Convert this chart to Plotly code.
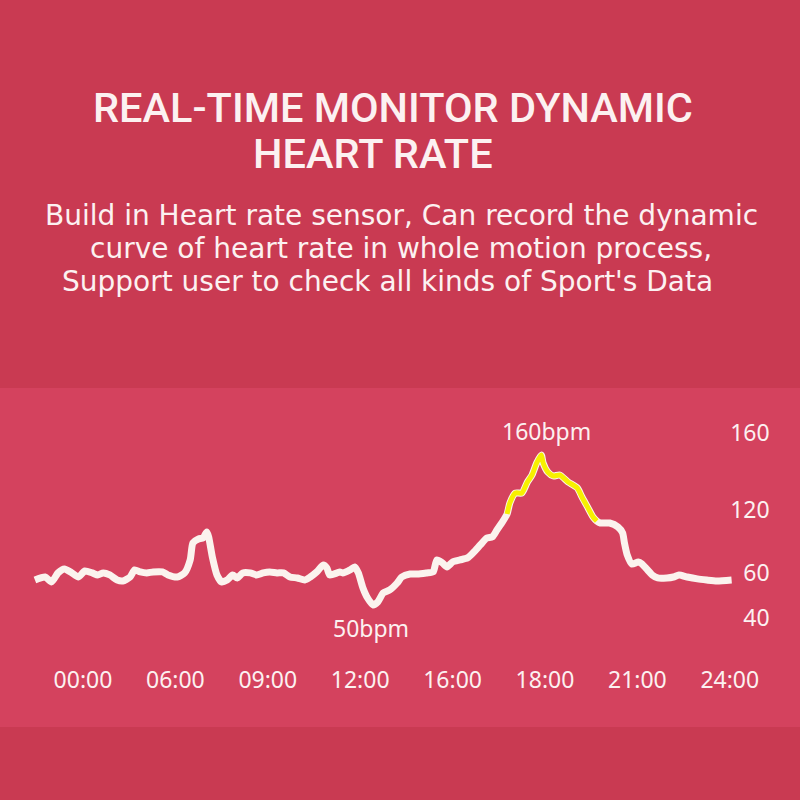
import plotly.graph_objects as go

# ---- data ----
tick_labels = ["00:00", "06:00", "09:00", "12:00", "16:00", "18:00", "21:00", "24:00"]
tick_slots = [0, 1, 2, 3, 4, 5, 6, 7]

y_tick_text = ["160", "120", "60", "40"]
y_tick_vals = [176.1, 119.7, 73.5, 40.5]

slot_x = [-0.52, -0.41, -0.34, -0.27, -0.20, -0.12, -0.05, 0.02, 0.10, 0.16, 0.22, 0.29,
          0.37, 0.43, 0.51, 0.56, 0.62, 0.69, 0.76, 0.86, 0.92, 1.02, 1.10, 1.16, 1.19,
          1.25, 1.30, 1.34, 1.36, 1.40, 1.45, 1.50, 1.56, 1.62, 1.67, 1.73, 1.81, 1.88,
          1.95, 2.02, 2.10, 2.17, 2.24, 2.32, 2.40, 2.46, 2.53, 2.60, 2.64, 2.67, 2.75,
          2.78, 2.81, 2.89, 2.94, 2.98, 3.03, 3.08, 3.14, 3.19, 3.25, 3.32, 3.40, 3.45,
          3.54, 3.62, 3.72, 3.79, 3.83, 3.89, 3.94, 4.00, 4.08, 4.16, 4.22, 4.30, 4.37,
          4.43, 4.48, 4.54, 4.59, 4.62, 4.68, 4.75, 4.81, 4.86, 4.91, 4.96, 4.98, 5.03,
          5.09, 5.16, 5.25, 5.35, 5.40, 5.46, 5.52, 5.56, 5.60, 5.70, 5.79, 5.84, 5.86,
          5.89, 5.94, 6.01, 6.05, 6.10, 6.16, 6.22, 6.32, 6.39, 6.45, 6.54, 6.65, 6.75,
          6.86, 7.02]
bpm = [68.3, 70.5, 66.9, 73.5, 76.4, 73.5, 70.5, 74.9, 73.5, 72.0, 73.5, 72.0,
       68.3, 67.6, 70.5, 75.7, 74.2, 73.5, 74.2, 74.2, 72.0, 70.5, 73.5, 83.0, 95.5,
       98.4, 99.1, 103.5, 99.9, 85.2, 72.0, 66.9, 68.3, 72.0, 69.8, 73.5, 73.5, 72.0,
       73.5, 74.2, 73.5, 73.5, 70.5, 69.8, 68.3, 70.5, 74.2, 79.3, 77.1, 72.0, 73.5,
       74.2, 73.5, 75.7, 77.9, 73.5, 62.5, 55.1, 50.0, 52.2, 58.8, 61.0, 66.1, 70.5,
       72.7, 72.7, 73.5, 74.2, 83.0, 80.8, 77.9, 81.5, 83.0, 84.5, 88.1, 94.0, 99.1,
       99.9, 105.0, 110.9, 116.7, 124.8, 132.1, 132.1, 140.2, 145.3, 154.1, 160.0, 154.1, 147.5,
       144.6, 145.3, 140.2, 135.8, 129.2, 121.9, 114.5, 111.6, 110.1, 110.1, 107.2, 102.8, 95.5,
       86.7, 80.1, 81.5, 80.1, 76.4, 72.0, 69.8, 69.8, 70.5, 72.0, 70.5, 69.1, 68.3,
       67.6, 68.3]

highlight_from, highlight_to = 4.59, 5.56

# ---- styling ----
OUTER = "#c93a52"
BAND = "#d4425e"
TEXT = "#fcf1f1"
LINE = "#fbf3ee"
YELLOW = "#f7f000"

W, H = 800, 800
M_T, M_B = 400, 136
plot_h = H - M_T - M_B


def py(pixel_y):
    """pixel y (from top) -> paper fraction"""
    return (H - M_B - pixel_y) / plot_h


hx = [x for x in slot_x if highlight_from <= x <= highlight_to]
hy = [b for x, b in zip(slot_x, bpm) if highlight_from <= x <= highlight_to]

fig = go.Figure()
fig.add_trace(go.Scatter(x=slot_x, y=bpm, mode="lines",
                         line=dict(color=LINE, width=7, shape="spline", smoothing=0.6),
                         hoverinfo="skip", showlegend=False))
fig.add_trace(go.Scatter(x=hx, y=hy, mode="lines",
                         line=dict(color=YELLOW, width=5, shape="spline", smoothing=0.6),
                         hoverinfo="skip", showlegend=False))

peak_i = bpm.index(max(bpm))
low_i = bpm.index(min(bpm))

title_font = dict(size=41.5, color=TEXT, family="Roboto", weight=500)
sub_font = dict(size=28, color=TEXT, family="DejaVu Sans")
label_font = dict(size=23, color=TEXT, family="Noto Sans")

annotations = [
    dict(x=slot_x[peak_i], y=bpm[peak_i], xref="x", yref="y", text="160bpm",
         showarrow=False, yanchor="bottom", yshift=6, xshift=5, font=label_font),
    dict(x=slot_x[low_i], y=bpm[low_i], xref="x", yref="y", text="50bpm",
         showarrow=False, yanchor="top", yshift=-5, xshift=-2, font=label_font),
    dict(x=393 / W, y=py(107), xref="paper", yref="paper", text="REAL-TIME MONITOR DYNAMIC",
         showarrow=False, xanchor="center", yanchor="middle", font=title_font),
    dict(x=373 / W, y=py(154), xref="paper", yref="paper", text="HEART RATE",
         showarrow=False, xanchor="center", yanchor="middle", font=title_font),
    dict(x=402 / W, y=py(215), xref="paper", yref="paper",
         text="Build in Heart rate sensor, Can record the dynamic",
         showarrow=False, xanchor="center", yanchor="middle", font=sub_font),
    dict(x=401 / W, y=py(248), xref="paper", yref="paper",
         text="curve of heart rate in whole motion process,",
         showarrow=False, xanchor="center", yanchor="middle", font=sub_font),
    dict(x=387 / W, y=py(281), xref="paper", yref="paper",
         text="Support user to check all kinds of Sport's Data",
         showarrow=False, xanchor="center", yanchor="middle", font=sub_font),
]

fig.update_layout(
    width=W, height=H,
    margin=dict(l=0, r=0, t=M_T, b=M_B, pad=0),
    paper_bgcolor=OUTER,
    plot_bgcolor="rgba(0,0,0,0)",
    showlegend=False,
    annotations=annotations,
    shapes=[dict(type="rect", xref="paper", yref="paper", x0=0, x1=1,
                 y0=py(727), y1=py(388), fillcolor=BAND, line=dict(width=0), layer="below")],
    xaxis=dict(range=[-0.898, 7.760], tickvals=tick_slots, ticktext=tick_labels,
               showgrid=False, zeroline=False, showline=False, ticks="",
               tickfont=label_font, fixedrange=True),
    yaxis=dict(range=[6.7, 200.3], tickvals=y_tick_vals, ticktext=y_tick_text,
               showgrid=False, zeroline=False, showline=False, ticks="",
               anchor="free", position=0.962, side="left",
               tickfont=label_font, fixedrange=True),
)

fig.write_html("out.html", config={"displayModeBar": False},
               post_script="document.body.style.margin='0';document.body.style.background='%s';" % OUTER)
